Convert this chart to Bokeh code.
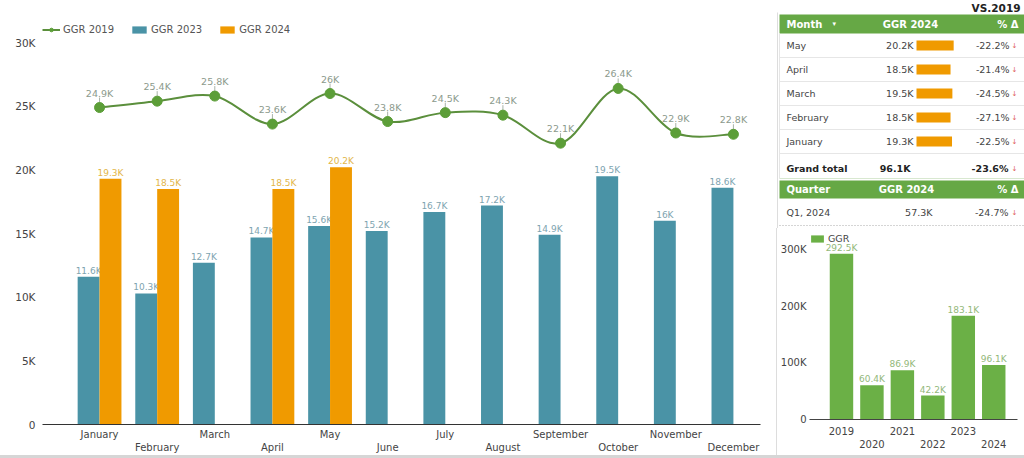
import numpy as np
from bokeh.plotting import figure
from bokeh.models import Range1d, FixedTicker, Legend, LegendItem
from bokeh.layouts import row, column
from bokeh.embed import file_html
from bokeh.resources import INLINE
from bokeh.core.properties import value

# ---------------- data ----------------
months = ["January", "February", "March", "April", "May", "June", "July",
          "August", "September", "October", "November", "December"]
ggr_2019 = [24900, 25400, 25800, 23600, 26000, 23800, 24500, 24300, 22100, 26400, 22900, 22800]
ggr_2023 = [11600, 10300, 12700, 14700, 15600, 15200, 16700, 17200, 14900, 19500, 16000, 18600]
ggr_2024 = [19300, 18500, None, 18500, 20200, None, None, None, None, None, None, None]
y_ticks = [0, 5000, 10000, 15000, 20000, 25000, 30000]
y_tick_labels = ["0", "5K", "10K", "15K", "20K", "25K", "30K"]

table_months = ["May", "April", "March", "February", "January"]
table_ggr_2024 = [20200, 18500, 19500, 18500, 19300]
table_pct_delta = [-22.2, -21.4, -24.5, -27.1, -22.5]
grand_total_ggr_2024 = 96100
grand_total_pct = -23.6
quarter_labels = ["Q1, 2024"]
quarter_ggr_2024 = [57300]
quarter_pct = [-24.7]

years = ["2019", "2020", "2021", "2022", "2023", "2024"]
ggr_yearly = [292500, 60400, 86900, 42200, 183100, 96100]
yearly_ticks = [0, 100000, 200000, 300000]
yearly_tick_labels = ["0", "100K", "200K", "300K"]

FONT = value("DejaVu Sans")
TEAL = "#4a93a6"
ORANGE = "#f09a00"
GREEN_LINE = "#5b8f3c"
GREEN_DOT = "#5c9e38"
HEADER_GREEN = "#66a845"
BAR_GREEN = "#6bb046"


def fmt_k(v):
    s = f"{v / 1000:.1f}"
    if s.endswith(".0"):
        s = s[:-2]
    return s + "K"


# ---------------- main chart ----------------
p = figure(width=776, height=455, x_range=Range1d(-0.99, 11.47), y_range=Range1d(0, 31580),
           output_backend="svg", toolbar_location=None,
           min_border_left=42, min_border_right=16, min_border_top=22, min_border_bottom=31)
p.frame_align = False
p.xgrid.visible = False
p.ygrid.visible = False
p.outline_line_color = None
p.background_fill_color = "white"

xi = np.arange(len(months), dtype=float)
bw = 0.38

r23 = p.vbar(x=xi - bw / 2, top=ggr_2023, width=bw, fill_color=TEAL, line_color=None)
p.text(x=xi - bw / 2, y=ggr_2023, text=[fmt_k(v) for v in ggr_2023], text_align="center",
       text_baseline="bottom", y_offset=-1, text_font=FONT, text_font_size="9px",
       text_color="#7ea4b0")

x24 = [xi[i] + bw / 2 for i, v in enumerate(ggr_2024) if v is not None]
v24 = [v for v in ggr_2024 if v is not None]
r24 = p.vbar(x=x24, top=v24, width=bw, fill_color=ORANGE, line_color=None)
p.text(x=x24, y=v24, text=[fmt_k(v) for v in v24], text_align="center",
       text_baseline="bottom", y_offset=-1, text_font=FONT, text_font_size="9px",
       text_color="#e2b64a")

# smooth line (Catmull-Rom converted to cubic Bezier segments)
pts = np.column_stack([xi, np.array(ggr_2019, dtype=float)])
n = len(pts)
x0, y0, x1, y1, cx0, cy0, cx1, cy1 = ([] for _ in range(8))
for i in range(n - 1):
    pa = pts[max(i - 1, 0)]
    pb = pts[i]
    pc = pts[i + 1]
    pd = pts[min(i + 2, n - 1)]
    c1 = pb + (pc - pa) / 6.0
    c2 = pc - (pd - pb) / 6.0
    x0.append(pb[0]); y0.append(pb[1]); x1.append(pc[0]); y1.append(pc[1])
    cx0.append(c1[0]); cy0.append(c1[1]); cx1.append(c2[0]); cy1.append(c2[1])
r19l = p.bezier(x0=x0, y0=y0, x1=x1, y1=y1, cx0=cx0, cy0=cy0, cx1=cx1, cy1=cy1,
                line_color=GREEN_LINE, line_width=2)
p.ray(x=xi, y=ggr_2019, length=10, length_units="screen", angle=np.pi / 2,
      line_color="#a8b4a8", line_width=1)
r19m = p.scatter(x=xi, y=ggr_2019, size=10, fill_color=GREEN_DOT, line_color=GREEN_DOT)
p.text(x=xi, y=ggr_2019, text=[fmt_k(v) for v in ggr_2019], text_align="center",
       text_baseline="bottom", y_offset=-9, text_font=FONT, text_font_size="9.5px",
       text_color="#8c9a8c")

legend = Legend(items=[LegendItem(label="GGR 2019", renderers=[r19l, r19m]),
                       LegendItem(label="GGR 2023", renderers=[r23]),
                       LegendItem(label="GGR 2024", renderers=[r24])],
                orientation="horizontal", location="top_left", margin=0, padding=0,
                spacing=16, label_standoff=3, glyph_width=18, glyph_height=9,
                label_height=14, border_line_color=None, background_fill_alpha=0,
                label_text_font="DejaVu Sans", label_text_font_size="10px",
                label_text_color="#555555")
p.add_layout(legend)

p.xaxis.ticker = FixedTicker(ticks=list(range(len(months))))
p.xaxis.major_label_overrides = {i: (m if i % 2 == 0 else "\n" + m) for i, m in enumerate(months)}
p.xaxis.major_tick_line_color = None
p.xaxis.major_tick_out = 0
p.xaxis.major_tick_in = 0
p.xaxis.minor_tick_line_color = None
p.xaxis.axis_line_color = "#333333"
p.xaxis.axis_line_width = 1.2
p.xaxis.major_label_standoff = 4
p.xaxis.major_label_text_font = "DejaVu Sans"
p.xaxis.major_label_text_font_size = "10px"
p.xaxis.major_label_text_color = "#444444"

p.yaxis.ticker = FixedTicker(ticks=y_ticks)
p.yaxis.major_label_overrides = dict(zip(y_ticks, y_tick_labels))
p.yaxis.axis_line_color = None
p.yaxis.major_tick_line_color = None
p.yaxis.major_tick_out = 0
p.yaxis.major_tick_in = 0
p.yaxis.minor_tick_line_color = None
p.yaxis.major_label_standoff = 7
p.yaxis.major_label_text_font = "DejaVu Sans"
p.yaxis.major_label_text_font_size = "10.5px"
p.yaxis.major_label_text_color = "#444444"

# ---------------- table ----------------
t = figure(width=248, height=228, x_range=Range1d(0, 248), y_range=Range1d(228, 0),
           output_backend="svg", toolbar_location=None, x_axis_location=None,
           y_axis_location=None, min_border=0)
t.frame_align = False
t.xgrid.visible = False
t.ygrid.visible = False
t.outline_line_color = None

t.segment(x0=[1], y0=[12], x1=[1], y1=[228], line_color="#dddddd", line_width=1)
t.text(x=[244], y=[7], text=["VS.2019"], text_align="right", text_baseline="middle",
       text_font=FONT, text_font_style="bold", text_font_size="10.5px", text_color="#222222")

# month table header
t.quad(left=[3], right=[248], top=[14], bottom=[33], fill_color=HEADER_GREEN, line_color=None)
t.text(x=[10], y=[23.5], text=["Month"], text_baseline="middle", text_font=FONT,
       text_font_style="bold", text_font_size="10px", text_color="white")
t.text(x=[56], y=[23.5], text=["▾"], text_baseline="middle", text_font=FONT,
       text_font_size="7px", text_color="white")
t.text(x=[134], y=[23.5], text=["GGR 2024"], text_align="center", text_baseline="middle",
       text_font=FONT, text_font_style="bold", text_font_size="10px", text_color="white")
t.text(x=[242], y=[23.5], text=["% Δ"], text_align="right", text_baseline="middle",
       text_font=FONT, text_font_style="bold", text_font_size="10px", text_color="white")

row_y = [45 + 24 * i for i in range(len(table_months))]
sep_y = [yy + 12 for yy in row_y]
t.segment(x0=[3] * len(sep_y), y0=sep_y, x1=[248] * len(sep_y), y1=sep_y,
          line_color="#e6e6e6", line_width=1)
t.segment(x0=[3], y0=[33], x1=[3], y1=[178], line_color="#e6e6e6", line_width=1)
t.text(x=[10] * len(row_y), y=row_y, text=table_months, text_baseline="middle",
       text_font=FONT, text_font_size="9.5px", text_color="#444444")
t.text(x=[137] * len(row_y), y=row_y, text=[fmt_k(v) for v in table_ggr_2024],
       text_align="right", text_baseline="middle", text_font=FONT, text_font_size="9.5px",
       text_color="#444444")
t.quad(left=[140] * len(row_y), right=[140 + v / 1000 * 1.84 for v in table_ggr_2024],
       top=[yy - 5 for yy in row_y], bottom=[yy + 5 for yy in row_y],
       fill_color=ORANGE, line_color=None)
t.text(x=[233] * len(row_y), y=row_y, text=[f"{v:.1f}%" for v in table_pct_delta],
       text_align="right", text_baseline="middle", text_font=FONT, text_font_size="9.5px",
       text_color="#444444")
t.text(x=[238] * len(row_y), y=row_y, text=["↓"] * len(row_y), text_align="center",
       text_baseline="middle", text_font=FONT, text_font_size="7px", text_color="#e0605a")

# grand total
t.text(x=[10], y=[168], text=["Grand total"], text_baseline="middle", text_font=FONT,
       text_font_style="bold", text_font_size="9.5px", text_color="#222222")
t.text(x=[134], y=[168], text=[fmt_k(grand_total_ggr_2024)], text_align="right",
       text_baseline="middle", text_font=FONT, text_font_style="bold",
       text_font_size="9.5px", text_color="#222222")
t.text(x=[232], y=[168], text=[f"{grand_total_pct:.1f}%"], text_align="right",
       text_baseline="middle", text_font=FONT, text_font_style="bold",
       text_font_size="9.5px", text_color="#222222")
t.text(x=[238], y=[168], text=["↓"], text_align="center", text_baseline="middle",
       text_font=FONT, text_font_size="7px", text_color="#e0605a")
t.segment(x0=[3], y0=[178], x1=[248], y1=[178], line_color="#d8e8d0", line_width=1)

# quarter table
t.quad(left=[3], right=[248], top=[180], bottom=[198], fill_color=HEADER_GREEN, line_color=None)
t.text(x=[10], y=[189], text=["Quarter"], text_baseline="middle", text_font=FONT,
       text_font_style="bold", text_font_size="10px", text_color="white")
t.text(x=[130], y=[189], text=["GGR 2024"], text_align="center", text_baseline="middle",
       text_font=FONT, text_font_style="bold", text_font_size="10px", text_color="white")
t.text(x=[242], y=[189], text=["% Δ"], text_align="right", text_baseline="middle",
       text_font=FONT, text_font_style="bold", text_font_size="10px", text_color="white")
q_y = [212 + 24 * i for i in range(len(quarter_labels))]
t.text(x=[10] * len(q_y), y=q_y, text=quarter_labels, text_baseline="middle", text_font=FONT,
       text_font_size="9.5px", text_color="#444444")
t.text(x=[156] * len(q_y), y=q_y, text=[fmt_k(v) for v in quarter_ggr_2024], text_align="right",
       text_baseline="middle", text_font=FONT, text_font_size="9.5px", text_color="#444444")
t.text(x=[232] * len(q_y), y=q_y, text=[f"{v:.1f}%" for v in quarter_pct], text_align="right",
       text_baseline="middle", text_font=FONT, text_font_size="9.5px", text_color="#444444")
t.text(x=[238] * len(q_y), y=q_y, text=["↓"] * len(q_y), text_align="center",
       text_baseline="middle", text_font=FONT, text_font_size="7px", text_color="#e0605a")
t.segment(x0=[3], y0=[225], x1=[248], y1=[225], line_color="#aaaaaa", line_width=1,
          line_dash="1 2")

# ---------------- yearly bar chart ----------------
b = figure(width=247, height=227, x_range=Range1d(-1.05, 5.78), y_range=Range1d(0, 328000),
           output_backend="svg", toolbar_location=None,
           min_border_left=31, min_border_right=7, min_border_top=5, min_border_bottom=36,
           styles={"border-left": "1px solid #dddddd"})
b.frame_align = False
b.xgrid.visible = False
b.ygrid.visible = False
b.outline_line_color = None
yx = np.arange(len(years), dtype=float)
rg = b.vbar(x=yx, top=ggr_yearly, width=0.77, fill_color=BAR_GREEN, line_color=None)
b.text(x=yx, y=ggr_yearly, text=[fmt_k(v) for v in ggr_yearly], text_align="center",
       text_baseline="bottom", y_offset=-1, text_font=FONT, text_font_size="9px",
       text_color="#93b87a")
lg2 = Legend(items=[LegendItem(label="GGR", renderers=[rg])], location="top_left",
             margin=0, padding=0, label_standoff=3, glyph_width=16, glyph_height=9,
             label_height=9, border_line_color=None, background_fill_alpha=0,
             label_text_font="DejaVu Sans", label_text_font_size="9.5px",
             label_text_color="#444444")
b.add_layout(lg2)
b.xaxis.ticker = FixedTicker(ticks=list(range(len(years))))
b.xaxis.major_label_overrides = {i: (y if i % 2 == 0 else "\n" + y) for i, y in enumerate(years)}
b.xaxis.major_tick_line_color = None
b.xaxis.major_tick_out = 0
b.xaxis.major_tick_in = 0
b.xaxis.minor_tick_line_color = None
b.xaxis.axis_line_color = "#444444"
b.xaxis.major_label_standoff = 6
b.xaxis.major_label_text_font = "DejaVu Sans"
b.xaxis.major_label_text_font_size = "10px"
b.xaxis.major_label_text_color = "#444444"
b.yaxis.ticker = FixedTicker(ticks=yearly_ticks)
b.yaxis.major_label_overrides = dict(zip(yearly_ticks, yearly_tick_labels))
b.yaxis.axis_line_color = None
b.yaxis.major_tick_line_color = None
b.yaxis.major_tick_out = 0
b.yaxis.major_tick_in = 0
b.yaxis.minor_tick_line_color = None
b.yaxis.major_label_standoff = 3
b.yaxis.major_label_text_font = "DejaVu Sans"
b.yaxis.major_label_text_font_size = "10px"
b.yaxis.major_label_text_color = "#444444"

layout = row(p, column(t, b, spacing=0), spacing=0,
             styles={"border-bottom": "3px solid #d6d6d6"})
open("out.html", "w").write(file_html(layout, INLINE))
